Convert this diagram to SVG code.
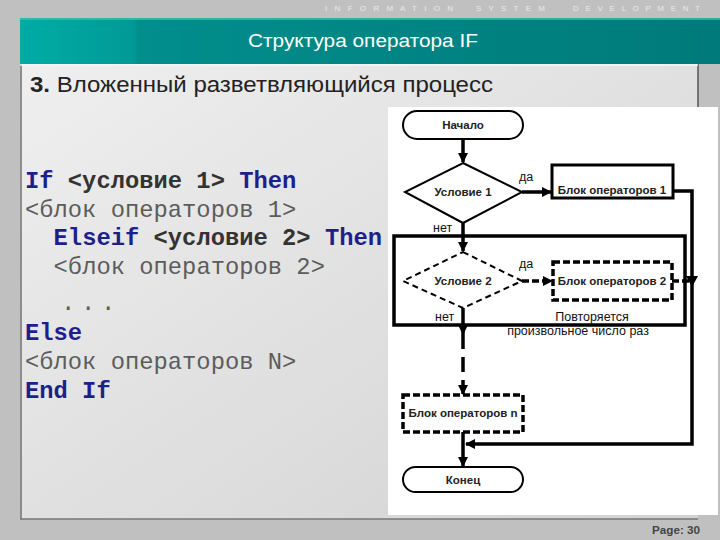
<svg xmlns="http://www.w3.org/2000/svg" width="720" height="540" viewBox="0 0 720 540">
<defs>
<linearGradient id="teal" x1="0" y1="0" x2="1" y2="0">
<stop offset="0" stop-color="#00aca6"/>
<stop offset="0.16" stop-color="#019a96"/>
<stop offset="0.17" stop-color="#018e8c"/>
<stop offset="1" stop-color="#007a7a"/>
</linearGradient>
<linearGradient id="panel" x1="0" y1="0" x2="1" y2="1">
<stop offset="0" stop-color="#efefef"/>
<stop offset="1" stop-color="#d2d2d2"/>
</linearGradient>
<marker id="ah" viewBox="0 0 10 10" refX="9" refY="5" markerWidth="10" markerHeight="10" markerUnits="userSpaceOnUse" orient="auto">
<path d="M0,0 L10,5 L0,10 z" fill="#000"/>
</marker>
<style>
.ln{stroke:#000;stroke-width:3.5;fill:none}
.sh{stroke:#000;stroke-width:2;fill:#fff}
.dsh{stroke-dasharray:7 3}
.fc{font-family:"Liberation Sans",Arial,sans-serif;font-size:11.5px;font-weight:bold;fill:#222;text-anchor:middle}
.lb{font-family:"Liberation Sans",Arial,sans-serif;font-size:12.5px;fill:#111}
.code{font-family:"Liberation Mono","Courier New",monospace;font-size:23.8px}
.kw{font-weight:bold;fill:#1f1f8c}
.cd{font-weight:bold;fill:#333}
.pl{fill:#5c5c5c}
.hd{font-family:"Liberation Sans",Arial,sans-serif;font-size:8px;fill:#e9e9e9}
</style>
</defs>
<rect width="720" height="540" fill="#c0c0c0"/>
<g id="slide">
<rect x="20" y="64" width="678" height="455" fill="url(#panel)"/>
<line x1="21" y1="64" x2="21" y2="519" stroke="#6e6e6e" stroke-width="1.5"/>
<line x1="20" y1="519" x2="698" y2="519" stroke="#777" stroke-width="1.5"/>
<line x1="698" y1="64" x2="698" y2="108" stroke="#555" stroke-width="1.5"/>
<rect x="20" y="18" width="700" height="46" fill="url(#teal)"/>
<line x1="20" y1="19" x2="720" y2="19" stroke="#3fbcb2" stroke-width="1.5"/>
<line x1="20" y1="65" x2="698" y2="65" stroke="#f6f6f6" stroke-width="1.5"/>
<text class="hd" x="325" y="11" textLength="128" lengthAdjust="spacing">I N F O R M A T I O N</text>
<text class="hd" x="476" y="11" textLength="69" lengthAdjust="spacing">S Y S T E M</text>
<text class="hd" x="573" y="11" textLength="127" lengthAdjust="spacing">D E V E L O P M E N T</text>
<text x="363" y="47" text-anchor="middle" font-family="'Liberation Sans',Arial,sans-serif" font-size="18" fill="#fff" textLength="230" lengthAdjust="spacingAndGlyphs">Структура оператора IF</text>
<text x="30" y="92" font-family="'Liberation Sans',Arial,sans-serif" font-size="22" fill="#222" textLength="463" lengthAdjust="spacingAndGlyphs"><tspan font-weight="bold">3.</tspan> Вложенный разветвляющийся процесс</text>
<text x="652" y="534" font-family="'Liberation Sans',Arial,sans-serif" font-size="11" font-weight="bold" fill="#444" textLength="48" lengthAdjust="spacingAndGlyphs">Page: 30</text>
</g>
<g id="code" class="code" xml:space="preserve">
<text x="25" y="188"><tspan class="kw">If</tspan><tspan class="cd"> &lt;условие 1&gt; </tspan><tspan class="kw">Then</tspan></text>
<text x="25" y="217" class="pl">&lt;блок операторов 1&gt;</text>
<text x="53.6" y="245"><tspan class="kw">Elseif</tspan><tspan class="cd"> &lt;условие 2&gt; </tspan><tspan class="kw">Then</tspan></text>
<text x="53.6" y="274" class="pl">&lt;блок операторов 2&gt;</text>
<text x="61" y="310" class="pl" letter-spacing="5.7">...</text>
<text x="25" y="340" class="kw">Else</text>
<text x="25" y="369" class="pl">&lt;блок операторов N&gt;</text>
<text x="25" y="398" class="kw">End If</text>
</g>
<rect id="canvas" x="388" y="107" width="330" height="408" fill="#fff"/>
<g id="connectors">
<line class="ln" x1="463" y1="139" x2="463" y2="162" marker-end="url(#ah)"/>
<line class="ln" x1="522" y1="192" x2="551" y2="192" marker-end="url(#ah)"/>
<polyline class="ln" points="673,191 692,191 692,444 466,444" marker-end="url(#ah)"/>
<line class="ln" x1="463" y1="223" x2="463" y2="251" marker-end="url(#ah)"/>
<line class="ln dsh" x1="522" y1="281" x2="552" y2="281" stroke-width="2.5" marker-end="url(#ah)"/>
<line class="ln dsh" x1="672" y1="281" x2="690" y2="281" stroke-width="2.5"/>
<path d="M686,276 L698,276 L692,287 z" fill="#000"/>
<line class="ln" x1="463" y1="308" x2="463" y2="334" marker-end="url(#ah)"/>
<line class="ln" x1="463" y1="334" x2="463" y2="394" stroke-dasharray="15 8" marker-end="url(#ah)"/>
<line class="ln" x1="463" y1="432" x2="463" y2="466" marker-end="url(#ah)"/>
<rect class="ln" x="394" y="236" width="291" height="89"/>
</g>
<g id="start">
<rect class="sh" x="403" y="111" width="120" height="28" rx="14"/>
<text class="fc" x="463" y="129">Начало</text>
</g>
<g id="cond1">
<polygon class="sh" points="463,163 522,192 463,223 405,192"/>
<text class="fc" x="463" y="196">Условие 1</text>
</g>
<g id="block1">
<rect x="552" y="165" width="121" height="33" fill="#fff" stroke="#000" stroke-width="3"/>
<text class="fc" x="612" y="194">Блок операторов 1</text>
</g>
<g id="cond2">
<polygon class="sh" points="463,252 522,281 463,308 403,281" stroke-dasharray="6 4"/>
<text class="fc" x="463" y="285">Условие 2</text>
</g>
<g id="block2">
<rect class="dsh" x="553" y="262" width="119" height="38" fill="#fff" stroke="#000" stroke-width="3.5"/>
<text class="fc" x="612" y="285">Блок операторов 2</text>
</g>
<g id="blockn">
<rect class="dsh" x="403" y="395" width="120" height="37" fill="#fff" stroke="#000" stroke-width="3.5"/>
<text class="fc" x="463" y="417">Блок операторов n</text>
</g>
<g id="end">
<rect class="sh" x="403" y="467" width="120" height="25" rx="12.5"/>
<text class="fc" x="463" y="484">Конец</text>
</g>
<g id="labels">
<text class="lb" x="519" y="181">да</text>
<text class="lb" x="433" y="232">нет</text>
<text class="lb" x="519" y="268">да</text>
<text class="lb" x="435" y="321">нет</text>
<text class="lb" x="592" y="321" text-anchor="middle" font-size="14">Повторяется</text>
<text class="lb" x="578" y="335" text-anchor="middle" font-size="14">произвольное число раз</text>
</g>
</svg>
